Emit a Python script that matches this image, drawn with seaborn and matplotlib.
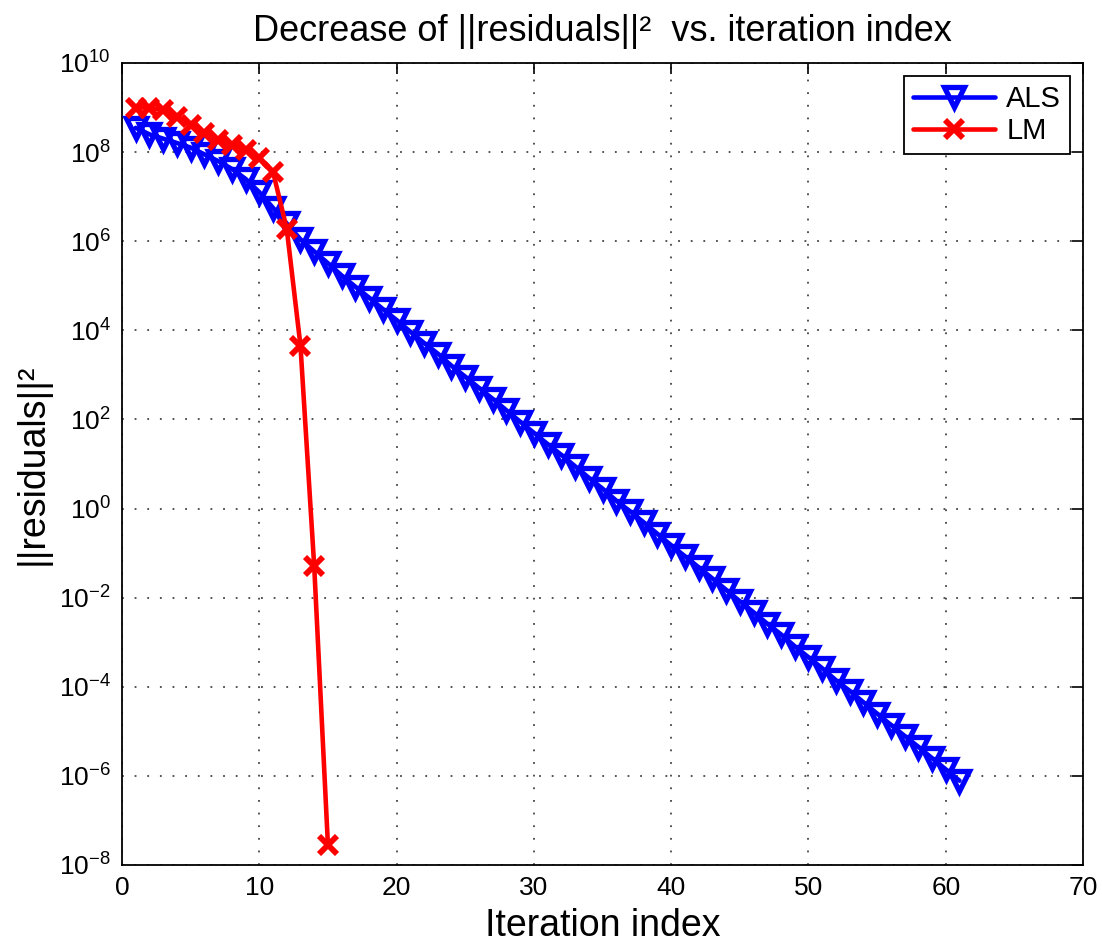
import numpy as np
import pandas as pd
import seaborn as sns
import matplotlib.pyplot as plt
from matplotlib.ticker import NullLocator

# ---- values ----

als_iter = list(range(1, 62))
als_res = [3.5e8, 2.5e8, 2.0e8, 1.6e8, 1.26e8, 8.9e7, 6.3e7, 4.2e7, 2.5e7, 1.26e7,
           5.6e6, 2.5e6, 1.1e6, 5.9e5, 3.2e5, 1.7e5, 9.5e4, 5.4e4, 3.0e4, 1.7e4,
           9.3e3, 5.2e3, 3.0e3, 1.6e3, 910, 510, 290, 160, 89, 50,
           28, 16, 8.9, 4.9, 2.8, 1.5, 0.87, 0.49, 0.27, 0.15,
           0.085, 0.048, 0.027, 0.015, 8.3e-3, 4.7e-3, 2.6e-3, 1.5e-3, 8.1e-4, 4.6e-4,
           2.6e-4, 1.4e-4, 8.1e-5, 4.5e-5, 2.5e-5, 1.4e-5, 7.9e-6, 4.5e-6, 2.5e-6, 1.4e-6,
           7.8e-7]

lm_iter = list(range(1, 16))
lm_res = [1.0e9, 1.0e9, 8.7e8, 6.2e8, 4.0e8, 2.7e8, 1.9e8, 1.45e8, 1.1e8, 7.4e7,
          3.6e7, 1.9e6, 4.5e3, 0.051, 2.8e-8]

xticks = [0, 10, 20, 30, 40, 50, 60, 70]
yticks = [1e-8, 1e-6, 1e-4, 1e-2, 1e0, 1e2, 1e4, 1e6, 1e8, 1e10]

sns.set_style("white")
plt.rcParams['font.family'] = ['Liberation Sans', 'DejaVu Sans']
plt.rcParams['mathtext.fontset'] = 'custom'
plt.rcParams['mathtext.rm'] = 'Liberation Sans'
plt.rcParams['mathtext.it'] = 'Liberation Sans'
plt.rcParams['text.color'] = 'black'
plt.rcParams['axes.labelcolor'] = 'black'

fig = plt.figure(figsize=(11.02, 9.44), dpi=100)
ax = fig.add_axes([0.1107, 0.0837, 0.8721, 0.8496])

df_als = pd.DataFrame({'it': als_iter, 'res': als_res})
df_lm = pd.DataFrame({'it': lm_iter, 'res': lm_res})

sns.lineplot(data=df_als, x='it', y='res', ax=ax, color='#0000ff', lw=3.3,
             marker='v', markersize=15, markerfacecolor='none',
             markeredgecolor='#0000ff', markeredgewidth=3.8, label='ALS', zorder=3)
sns.lineplot(data=df_lm, x='it', y='res', ax=ax, color='#ff0000', lw=3.3,
             marker='x', markersize=13, markeredgewidth=4.2,
             markeredgecolor='#ff0000', label='LM', zorder=4)

ax.set_yscale('log')
ax.set_xlim(0, 70)
ax.set_ylim(1e-8, 1e10)
ax.set_xticks(xticks)
ax.set_yticks(yticks)
ax.yaxis.set_minor_locator(NullLocator())

ax.grid(True, which='major', linestyle=(0, (1, 6)), color='#444444', lw=1.3)
ax.tick_params(direction='in', length=8, width=1.2, top=True, right=True,
               labelsize=19, colors='black', labelcolor='black', pad=8)
for s in ax.spines.values():
    s.set_color('black')
    s.set_linewidth(1.3)

ax.set_title('Decrease of ||residuals||²  vs. iteration index', fontsize=26, pad=16)
ax.set_xlabel('Iteration index', fontsize=27, labelpad=6)
ax.set_ylabel('||residuals||²', fontsize=27, labelpad=6)

leg = ax.legend(loc='upper right', fontsize=21, frameon=True, fancybox=False,
                edgecolor='black', handlelength=2.8, borderpad=0.3,
                labelspacing=0.15, handletextpad=0.4, borderaxespad=0.45)
leg.get_frame().set_linewidth(1.3)
leg.get_frame().set_alpha(1)

fig.savefig('out.png', dpi=100)
